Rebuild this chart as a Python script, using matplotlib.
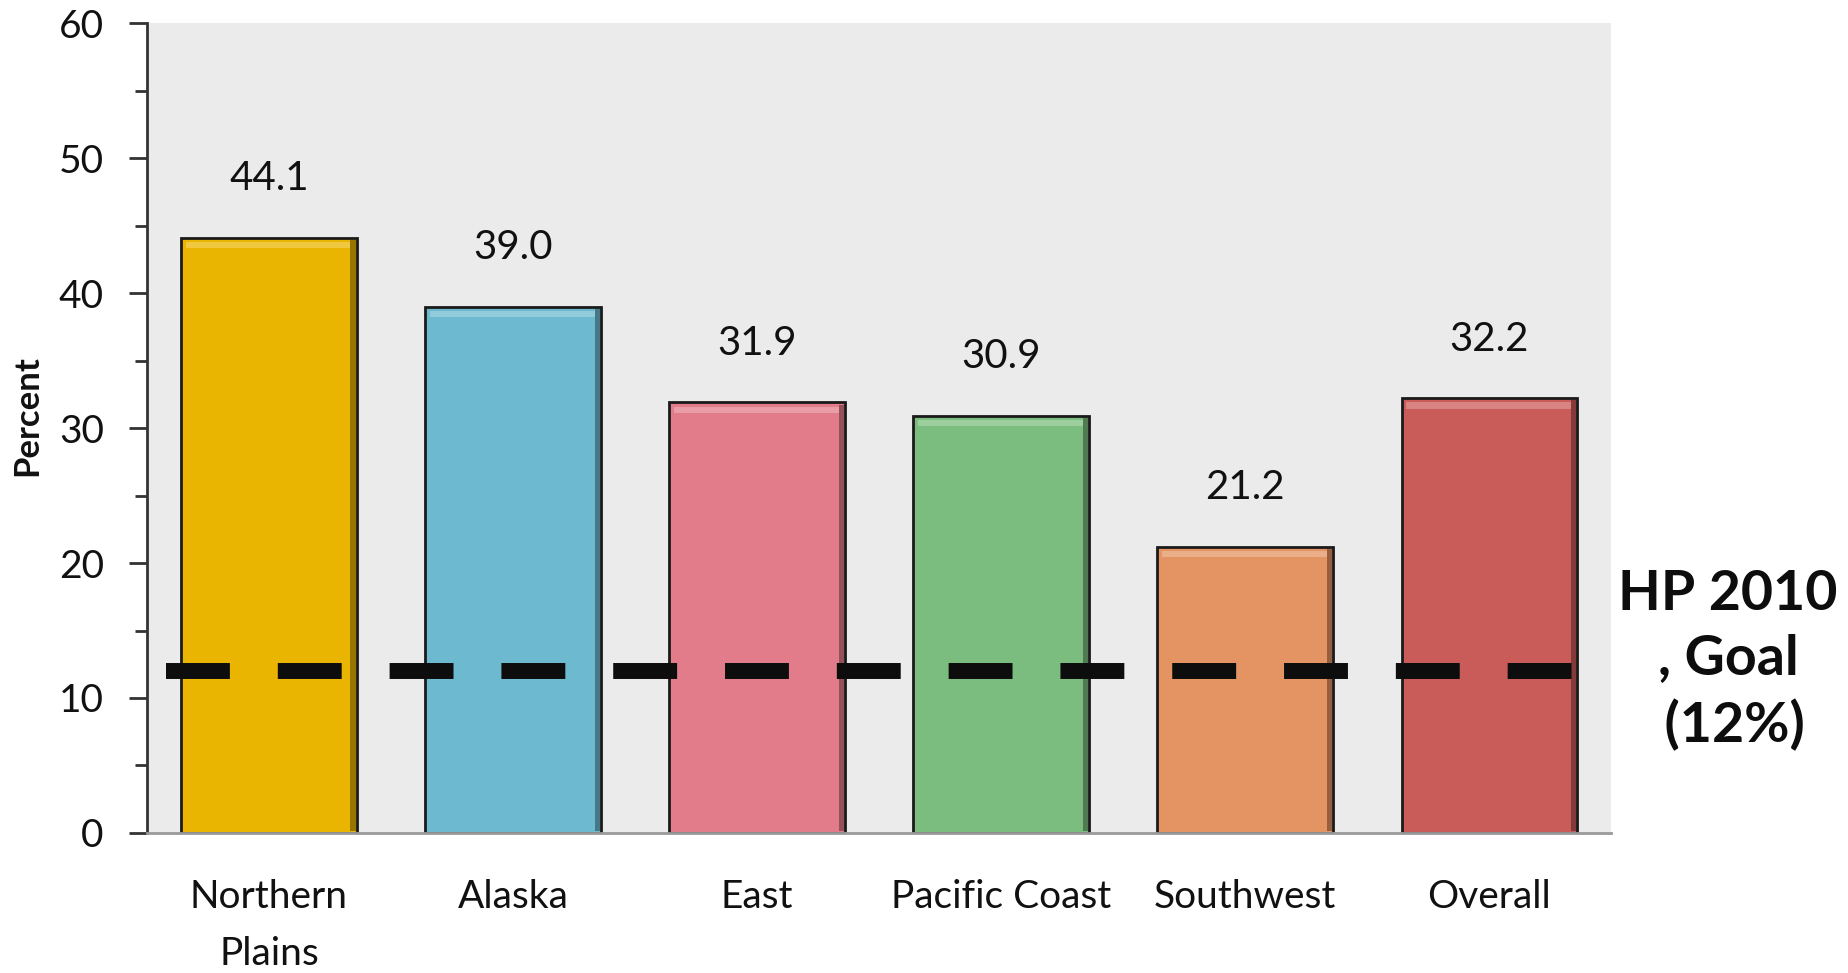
import matplotlib.pyplot as plt
from matplotlib.ticker import MultipleLocator
from matplotlib.colors import to_rgb

# Data
regions = ['Northern\nPlains', 'Alaska', 'East', 'Pacific Coast', 'Southwest', 'Overall']
values = [44.1, 39.0, 31.9, 30.9, 21.2, 32.2]
colors = ['#E9B500', '#6DB9CF', '#E27C8A', '#7BBD7E', '#E39462', '#C95B58']
goal = 12
goal_label = 'HP 2010\n, Goal\n (12%)'

plt.rcParams['font.family'] = ['Lato', 'DejaVu Sans']


def shade(c, f):
    r, g, b = to_rgb(c)
    if f > 0:
        return (r + (1 - r) * f, g + (1 - g) * f, b + (1 - b) * f)
    return (r * (1 + f), g * (1 + f), b * (1 + f))


fig = plt.figure(figsize=(18.48, 9.73), dpi=100)
ax = fig.add_axes([0.0795, 0.144, 0.7925, 0.832])
ax.set_facecolor('#EBEBEB')

x = list(range(len(regions)))
w = 0.72
ax.bar(x, values, width=w, color=colors, edgecolor='#1a1a1a', linewidth=2, zorder=2)
# bevel: light strip at the top, darker strip on the right side
ax.bar(x, [0.45] * len(x), bottom=[v - 0.75 for v in values], width=w - 0.04,
       color=[shade(c, 0.25) for c in colors], linewidth=0, zorder=2.1)
ax.bar([xi + w / 2 - 0.015 for xi in x], [v - 0.3 for v in values], width=0.022,
       bottom=0.15, color=[shade(c, -0.35) for c in colors], linewidth=0, zorder=2.1)

# value labels
for xi, v in zip(x, values):
    ax.text(xi, v + 4.4, f'{v:.1f}', ha='center', va='center', fontsize=29, color='#111111')

# goal line
ax.plot([-0.42, len(regions) - 0.64], [goal, goal], color='#0d0d0d', linewidth=11.5,
        dashes=(4, 3), solid_capstyle='butt', dash_capstyle='butt', zorder=3)

ax.set_xlim(-0.5, len(regions) - 0.5)
ax.set_ylim(0, 60)
ax.yaxis.set_major_locator(MultipleLocator(10))
ax.yaxis.set_minor_locator(MultipleLocator(5))

ax.set_xticks(x)
ax.set_xticklabels(regions, fontsize=28, linespacing=1.75, color='#111111')
ax.tick_params(axis='x', length=0, pad=33)
ax.tick_params(axis='y', which='major', length=13, width=2, pad=18, labelsize=28,
               colors='#333333', labelcolor='#111111')
ax.tick_params(axis='y', which='minor', length=9, width=2, colors='#333333')

for s in ['top', 'right']:
    ax.spines[s].set_visible(False)
ax.spines['left'].set_color('#333333')
ax.spines['left'].set_linewidth(2)
ax.spines['bottom'].set_color('#9a9a9a')
ax.spines['bottom'].set_linewidth(2)

ax.set_ylabel('Percent', fontsize=25, fontweight='bold', color='#111111')
ax.yaxis.set_label_coords(-0.071, 0.516)

fig.text(0.935, 1 - 660 / 973, goal_label, ha='center', va='center', fontsize=40,
         fontweight='bold', color='#0d0d0d', linespacing=1.36)

fig.savefig('out.png', dpi=100)
